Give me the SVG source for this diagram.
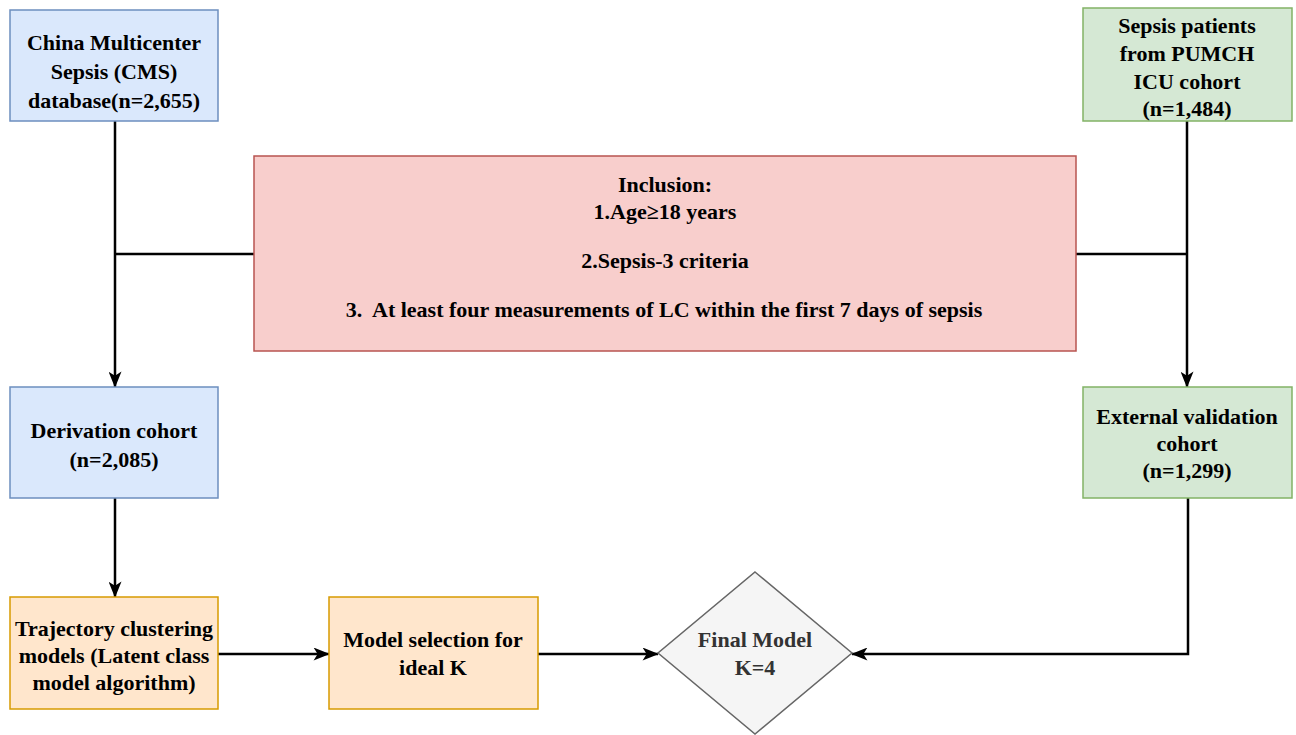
<svg xmlns="http://www.w3.org/2000/svg" width="1296" height="735" viewBox="0 0 1296 735">
<defs>
<style>
text{font-family:"Liberation Serif","Times New Roman",serif;font-weight:bold;font-size:22px;text-anchor:middle;fill:#000}
.blue{fill:#dae8fc;stroke:#6c8ebf;stroke-width:1.5}
.green{fill:#d5e8d4;stroke:#82b366;stroke-width:1.5}
.red{fill:#f8cecc;stroke:#b85450;stroke-width:1.5}
.orange{fill:#ffe6cc;stroke:#d79b00;stroke-width:1.5}
.gray{fill:#f5f5f5;stroke:#666666;stroke-width:1.5}
.c{fill:none;stroke:#000;stroke-width:2.5}
.a{marker-end:url(#arr)}
</style>
<marker id="arr" viewBox="0 0 20 16" refX="19" refY="8" markerWidth="17" markerHeight="13" markerUnits="userSpaceOnUse" orient="auto">
<path d="M0,0 L20,8 L0,16 L5,8 Z" fill="#000"/>
</marker>
</defs>
<rect width="1296" height="735" fill="#fff"/>
<g id="connectors">
<path class="c a" d="M115,121 V387"/>
<path class="c" d="M115,254 H254"/>
<path class="c a" d="M1187,121 V387"/>
<path class="c" d="M1076,254 H1187"/>
<path class="c a" d="M115,498 V597"/>
<path class="c a" d="M218,654 H329"/>
<path class="c a" d="M538,654 H658"/>
<path class="c a" d="M1188,498 V654 H852"/>
</g>
<g id="cms">
<rect class="blue" x="10" y="10" width="208" height="111"/>
<text x="114" y="50">China Multicenter</text>
<text x="114" y="79">Sepsis (CMS)</text>
<text x="114" y="108">database(n=2,655)</text>
</g>
<g id="pumch">
<rect class="green" x="1083" y="8" width="209" height="113"/>
<text x="1187" y="33">Sepsis patients</text>
<text x="1187" y="61">from PUMCH</text>
<text x="1187" y="89">ICU cohort</text>
<text x="1187" y="116">(n=1,484)</text>
</g>
<g id="inclusion">
<rect class="red" x="254" y="156" width="822" height="195"/>
<text x="665" y="192">Inclusion:</text>
<text x="665" y="219">1.Age≥18 years</text>
<text x="665" y="268">2.Sepsis-3 criteria</text>
<text x="664" y="317" xml:space="preserve">3.  At least four measurements of LC within the first 7 days of sepsis</text>
</g>
<g id="derivation">
<rect class="blue" x="10" y="387" width="208" height="111"/>
<text x="114" y="438">Derivation cohort</text>
<text x="114" y="467">(n=2,085)</text>
</g>
<g id="external">
<rect class="green" x="1083" y="387" width="209" height="111"/>
<text x="1187" y="424">External validation</text>
<text x="1187" y="451">cohort</text>
<text x="1187" y="478">(n=1,299)</text>
</g>
<g id="trajectory">
<rect class="orange" x="10" y="597" width="208" height="112"/>
<text x="114" y="636">Trajectory clustering</text>
<text x="114" y="663">models (Latent class</text>
<text x="114" y="690">model algorithm)</text>
</g>
<g id="selection">
<rect class="orange" x="329" y="597" width="209" height="112"/>
<text x="433" y="647">Model selection for</text>
<text x="433" y="675">ideal K</text>
</g>
<g id="final">
<path class="gray" d="M755,572 L852,653 L755,734 L658,653 Z"/>
<text x="755" y="647" style="fill:#333">Final Model</text>
<text x="755" y="675" style="fill:#333">K=4</text>
</g>
</svg>
